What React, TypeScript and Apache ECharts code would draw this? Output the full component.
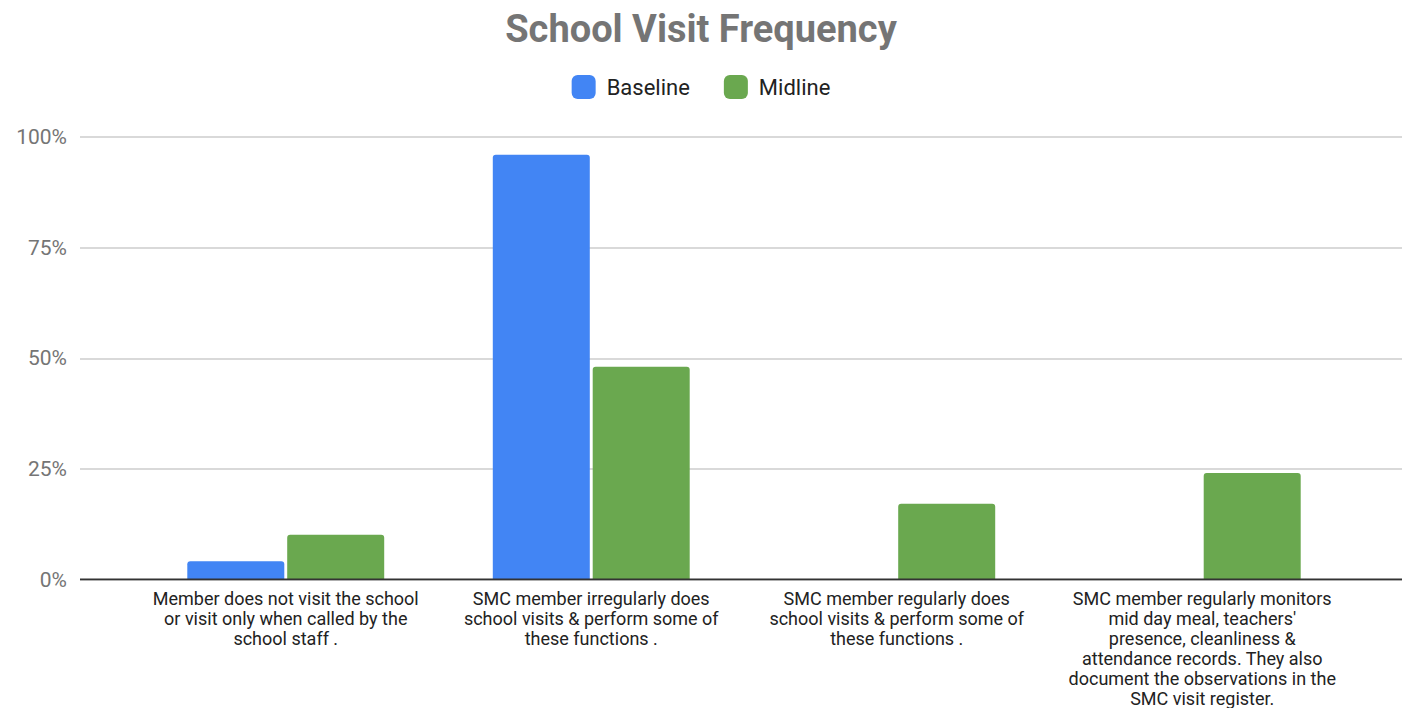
import React, { useEffect, useRef } from "react";
import * as echarts from "echarts";

const categories = [
  "Member does not visit the school\nor visit only when called by the\nschool staff .",
  "SMC member irregularly does\nschool visits & perform some of\nthese functions .",
  "SMC member regularly does\nschool visits & perform some of\nthese functions .",
  "SMC member regularly monitors\nmid day meal, teachers'\npresence, cleanliness &\nattendance records. They also\ndocument the observations in the\nSMC visit register.",
];
const baseline = [4, 96, 0, 0];
const midline = [10, 48, 17, 24];
const yTicks = [0, 25, 50, 75, 100];

export default function App() {
  const ref = useRef<HTMLDivElement>(null);
  useEffect(() => {
    document.body.style.margin = "0";
    const chart = echarts.init(ref.current!, null, { renderer: "svg" });
    const font = "Roboto, 'Noto Sans', sans-serif";
    chart.setOption({
      animation: false,
      backgroundColor: "#ffffff",
      title: {
        text: "School Visit Frequency",
        left: "center",
        top: 5,
        itemGap: 0,
        textStyle: { fontFamily: font, fontSize: 38, fontWeight: "bold", color: "#757575" },
      },
      legend: {
        top: 70,
        left: "center",
        itemWidth: 24,
        itemHeight: 24,
        itemGap: 34,
        icon: "roundRect",
        textStyle: { fontFamily: font, fontSize: 22, color: "#222222", padding: [0, 0, 0, 6] },
        data: ["Baseline", "Midline"],
      },
      grid: [
        { left: 80, right: 0, top: 137, bottom: 128.5 },
        { left: 133, right: 47, top: 137, bottom: 128.5 },
      ],
      xAxis: [
        {
          gridIndex: 0,
          type: "value",
          min: 0,
          max: 1,
          show: false,
        },
        {
          gridIndex: 1,
          type: "category",
          data: categories,
          axisLine: { show: false },
          axisTick: { show: false },
          axisLabel: {
            interval: 0,
            margin: 9,
            fontFamily: font,
            fontSize: 18,
            lineHeight: 20,
            color: "#222222",
            align: "center",
          },
        },
      ],
      yAxis: [
        {
          gridIndex: 0,
          type: "value",
          min: 0,
          max: 100,
          interval: 25,
          axisLine: { show: false },
          axisTick: { show: false },
          axisLabel: {
            margin: 13,
            fontFamily: font,
            fontSize: 21,
            color: "#757575",
            formatter: (v: number) => (yTicks.includes(v) ? v + "%" : ""),
          },
          splitLine: { lineStyle: { color: "#cccccc", width: 1.5 } },
        },
        {
          gridIndex: 1,
          type: "value",
          min: 0,
          max: 100,
          show: false,
        },
      ],
      series: [
        {
          name: "Baseline",
          type: "bar",
          xAxisIndex: 1,
          yAxisIndex: 1,
          data: baseline,
          barWidth: 97,
          barGap: "3%",
          itemStyle: { color: "#4285f4", borderRadius: [3, 3, 0, 0] },
        },
        {
          name: "Midline",
          type: "bar",
          xAxisIndex: 1,
          yAxisIndex: 1,
          data: midline,
          barWidth: 97,
          barGap: "3%",
          itemStyle: { color: "#6aa84f", borderRadius: [3, 3, 0, 0] },
        },
        {
          type: "line",
          xAxisIndex: 0,
          yAxisIndex: 0,
          data: [[0, 0], [1, 0]],
          symbol: "none",
          silent: true,
          lineStyle: { color: "#333333", width: 2 },
          z: 10,
        },
      ],
    });
    return () => chart.dispose();
  }, []);
  return <div ref={ref} style={{ width: 1402, height: 708 }} />;
}
